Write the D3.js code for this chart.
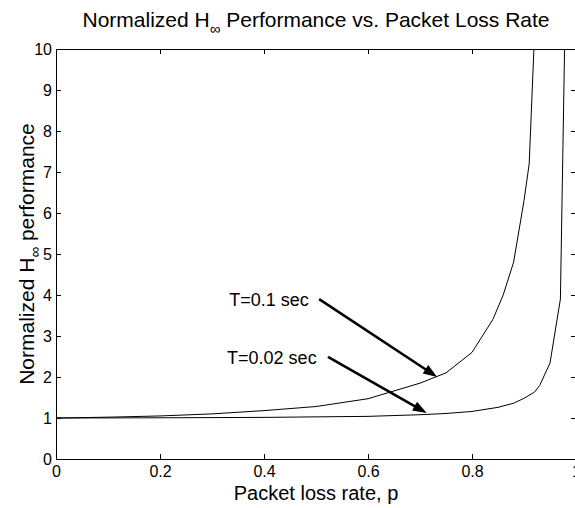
<!DOCTYPE html>
<html>
<head>
<meta charset="utf-8">
<script src="https://cdn.jsdelivr.net/npm/d3@7"></script>
<style>
    body { margin: 0; background: #fff; }
    svg text { font-family: "Liberation Sans", Arial, Helvetica, sans-serif; fill: #000; }
</style>
</head>
<body>
<div id="chart"></div>
<script>
// packet loss rate samples and normalized H-inf performance
var pLossT01 = [0, 0.1, 0.2, 0.3, 0.4, 0.5, 0.6, 0.7, 0.75, 0.8, 0.82, 0.84, 0.86, 0.88, 0.9, 0.91, 0.92];
var perfT01 = [1.0, 1.02, 1.05, 1.1, 1.18, 1.28, 1.47, 1.85, 2.1, 2.6, 3.0, 3.4, 4.0, 4.8, 6.3, 7.2, 10.3];

var pLossT002 = [0, 0.2, 0.4, 0.6, 0.7, 0.75, 0.8, 0.85, 0.88, 0.9, 0.92, 0.93, 0.95, 0.97, 0.98];
var perfT002 = [1.0, 1.005, 1.015, 1.04, 1.08, 1.11, 1.16, 1.26, 1.36, 1.48, 1.63, 1.79, 2.34, 3.9, 11.5];

var xTicks = [0, 0.2, 0.4, 0.6, 0.8, 1];
var xTickLabels = ["0", "0.2", "0.4", "0.6", "0.8", "1"];
var yTicks = [0, 1, 2, 3, 4, 5, 6, 7, 8, 9, 10];

// annotations: label text, label anchor, arrow start and arrow tip (data units)
var noteText = ["T=0.1 sec", "T=0.02 sec"];
var noteAt = [[0.333, 3.73], [0.329, 2.32]];
var arrowFrom = [[0.506, 3.9], [0.523, 2.49]];
var arrowTo = [[0.733, 2.0], [0.713, 1.12]];

var width = 575, height = 508;
var margin = {top: 49, left: 56, right: -1, bottom: 49};
var plotW = width - margin.left - margin.right;
var plotH = height - margin.top - margin.bottom;

var svg = d3.select('#chart').append('svg')
    .attr('width', width)
    .attr('height', height);

var x = d3.scaleLinear().domain([0, 1]).range([0, plotW]);
var y = d3.scaleLinear().domain([0, 10]).range([plotH, 0]);

var g = svg.append('g').attr('transform', 'translate(' + margin.left + ',' + margin.top + ')');

g.append('clipPath').attr('id', 'plot-clip')
    .append('rect').attr('width', plotW).attr('height', plotH);

// axes, MATLAB style: ticks pointing inward on all four sides
g.append('g')
    .attr('transform', 'translate(0,' + plotH + ')')
    .call(d3.axisBottom(x).tickValues(xTicks).tickSize(-5).tickSizeOuter(0).tickPadding(7)
        .tickFormat(function (d, i) { return xTickLabels[i]; }));
g.append('g')
    .call(d3.axisTop(x).tickValues(xTicks).tickSize(-5).tickSizeOuter(0).tickFormat(''));
g.append('g')
    .call(d3.axisLeft(y).tickValues(yTicks).tickSize(-5).tickSizeOuter(0).tickPadding(4)
        .tickFormat(d3.format('d')));
g.append('g')
    .attr('transform', 'translate(' + plotW + ',0)')
    .call(d3.axisRight(y).tickValues(yTicks).tickSize(-5).tickSizeOuter(0).tickFormat(''));

g.selectAll('.tick text').attr('font-size', 16).attr('font-family', null);
g.selectAll('.domain, .tick line').attr('stroke', '#000');

// curves
var line = d3.line()
    .x(function (d) { return x(d[0]); })
    .y(function (d) { return y(d[1]); });

var curves = [d3.zip(pLossT01, perfT01), d3.zip(pLossT002, perfT002)];

g.append('g').attr('clip-path', 'url(#plot-clip)')
    .selectAll('path')
    .data(curves)
    .enter()
    .append('path')
    .attr('d', line)
    .attr('fill', 'none')
    .attr('stroke', '#000')
    .attr('stroke-width', 1);

// annotation arrows
function arrowHead(from, to) {
    var x0 = x(from[0]), y0 = y(from[1]), x1 = x(to[0]), y1 = y(to[1]);
    var a = Math.atan2(y1 - y0, x1 - x0);
    var len = 14, half = 5;
    var bx = x1 - len * Math.cos(a), by = y1 - len * Math.sin(a);
    return [[x1, y1],
        [bx + half * Math.sin(a), by - half * Math.cos(a)],
        [bx - half * Math.sin(a), by + half * Math.cos(a)]];
}

noteText.forEach(function (t, i) {
    var head = arrowHead(arrowFrom[i], arrowTo[i]);
    var a = Math.atan2(y(arrowTo[i][1]) - y(arrowFrom[i][1]), x(arrowTo[i][0]) - x(arrowFrom[i][0]));
    g.append('line')
        .attr('x1', x(arrowFrom[i][0]))
        .attr('y1', y(arrowFrom[i][1]))
        .attr('x2', x(arrowTo[i][0]) - 10 * Math.cos(a))
        .attr('y2', y(arrowTo[i][1]) - 10 * Math.sin(a))
        .attr('stroke', '#000')
        .attr('stroke-width', 2.5);
    g.append('polygon')
        .attr('points', head.map(function (p) { return p.join(','); }).join(' '))
        .attr('fill', '#000');
    g.append('text')
        .attr('x', x(noteAt[i][0]))
        .attr('y', y(noteAt[i][1]))
        .attr('font-size', 18)
        .text(t);
});

// title with subscript infinity
var title = svg.append('text')
    .attr('x', margin.left + plotW / 2)
    .attr('y', 27)
    .attr('text-anchor', 'middle')
    .attr('font-size', 21);
title.append('tspan').text('Normalized H');
title.append('tspan').attr('dy', 7).attr('font-size', 15).text('\u221e');
title.append('tspan').attr('dy', -7).text(' Performance vs. Packet Loss Rate');

// axis labels
svg.append('text')
    .attr('x', margin.left + plotW / 2)
    .attr('y', 500)
    .attr('text-anchor', 'middle')
    .attr('font-size', 20)
    .text('Packet loss rate, p');

var ylab = svg.append('text')
    .attr('transform', 'translate(34,' + (margin.top + plotH / 2) + ') rotate(-90)')
    .attr('text-anchor', 'middle')
    .attr('font-size', 21);
ylab.append('tspan').text('Normalized H');
ylab.append('tspan').attr('dy', 6).attr('font-size', 15).text('\u221e');
ylab.append('tspan').attr('dy', -6).text(' performance');
</script>
</body>
</html>
